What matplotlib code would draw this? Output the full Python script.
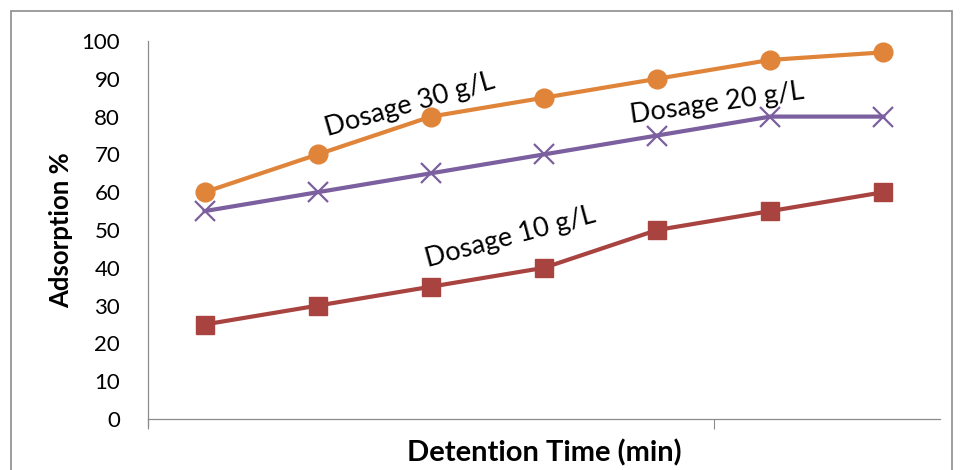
import matplotlib
matplotlib.use("Agg")
import matplotlib.pyplot as plt
from matplotlib.patches import Rectangle

time_min = [10, 30, 50, 70, 90, 110, 130]
dosage_30 = [60, 70, 80, 85, 90, 95, 97]
dosage_20 = [55, 60, 65, 70, 75, 80, 80]
dosage_10 = [25, 30, 35, 40, 50, 55, 60]
y_ticks = [0, 10, 20, 30, 40, 50, 60, 70, 80, 90, 100]
x_ticks = [0, 100]

plt.rcParams['font.family'] = ['Lato', 'DejaVu Sans']

fig = plt.figure(figsize=(9.6, 4.7), dpi=100)
fig.patches.append(Rectangle((11/960, -0.1), (952-11)/960, 1.1 - 11/470,
                             transform=fig.transFigure, fill=False,
                             edgecolor='#8c8c8c', linewidth=1.2))
ax = fig.add_axes([148/960, 51/470, (940-148)/960, (419-41)/470])

ax.plot(time_min, dosage_30, color='#E0843A', lw=3, marker='o', ms=13.5, zorder=3)
ax.plot(time_min, dosage_20, color='#7B5F9E', lw=3, marker='x', ms=15, mew=1.6, zorder=3)
ax.plot(time_min, dosage_10, color='#A94340', lw=3, marker='s', ms=13, zorder=3)

ax.set_xlim(0, 140)
ax.set_ylim(0, 100)
ax.set_yticks(y_ticks)
ax.set_xticks(x_ticks)
ax.set_xticklabels([])
ax.tick_params(axis='y', length=0, pad=20, labelsize=16)
ax.tick_params(axis='x', length=7, width=0.8, color='#8c8c8c', direction='out')
for s in ['top', 'right']:
    ax.spines[s].set_visible(False)
for s in ['left', 'bottom']:
    ax.spines[s].set_color('#8c8c8c')
    ax.spines[s].set_linewidth(0.9)
ax.spines['left'].set_bounds(-1.9, 100)

ax.set_ylabel('Adsorption %', fontsize=18.5, fontweight='bold', labelpad=6)
ax.set_xlabel('Detention Time (min)', fontsize=21, fontweight='bold', labelpad=4)

ax.text(46.3, 83, 'Dosage 30 g/L', fontsize=19.5, rotation=16, ha='center', va='center')
ax.text(100.6, 83.6, 'Dosage 20 g/L', fontsize=19.5, rotation=8, ha='center', va='center')
ax.text(64, 48, 'Dosage 10 g/L', fontsize=19.5, rotation=15, ha='center', va='center')

fig.savefig('out.png', dpi=100)
